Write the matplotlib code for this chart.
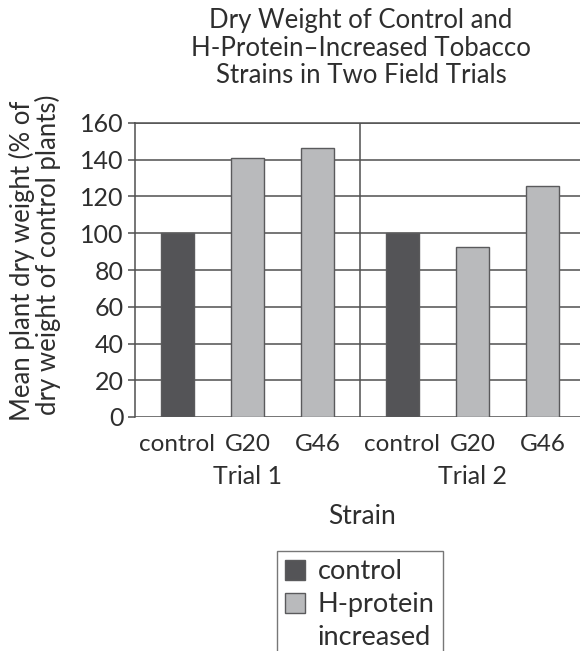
import matplotlib
matplotlib.use("Agg")
import matplotlib.pyplot as plt
from matplotlib.patches import Patch

plt.rcParams['font.family'] = ['Lato', 'DejaVu Sans']

strains = ["control", "G20", "G46", "control", "G20", "G46"]
trials = ["Trial 1", "Trial 2"]
values = [100, 141, 146.5, 100, 92.5, 125.5]
is_control = [True, False, False, True, False, False]
yticks = [0, 20, 40, 60, 80, 100, 120, 140, 160]
legend_labels = ["control", "H-protein", "increased"]

dark = "#545457"
light = "#b9babc"
edge = "#5a5a5c"
grid_c = "#505050"
txt = "#2e2e2e"
FS = 18

block = 3.214
xpos = [0, 1, 2, block, block + 1, block + 2]

fig = plt.figure(figsize=(5.8, 6.51), dpi=100)
ax = fig.add_axes([135/580, 234/651, 1 - 135/580, (417-123)/651])

ax.set_ylim(0, 160)
ax.set_xlim(-0.607, (580-177.5)/70)
ax.set_yticks(yticks)
ax.yaxis.grid(True, color=grid_c, linewidth=1.1)
ax.set_axisbelow(True)
for s in ["right", "bottom"]:
    ax.spines[s].set_visible(False)
for s in ["left", "top"]:
    ax.spines[s].set_color(grid_c)
    ax.spines[s].set_linewidth(1.1)
ax.axvline(block - 0.607, color=grid_c, linewidth=1.1, zorder=1)

colors = [dark if c else light for c in is_control]
ax.bar(xpos, values, width=0.47, color=colors, edgecolor=edge, linewidth=1.0, zorder=3)

ax.set_xticks(xpos)
ax.set_xticklabels(strains, fontsize=17.5, color=txt)
ax.tick_params(axis="x", length=0, pad=12)
ax.tick_params(axis="y", length=5, width=1.1, color=grid_c, pad=3, labelsize=FS, labelcolor=txt)

for i, t in enumerate(trials):
    fig.text((177.5 + 70*xpos[3*i + 1]) / 580, 1 - 477/651, t,
             ha="center", va="center", fontsize=FS, color=txt)
fig.text(362/580, 1 - 517/651, "Strain", ha="center", va="center", fontsize=19, color=txt)

fig.text(361/580, 1 - 48/651,
         "Dry Weight of Control and\nH-Protein\u2013Increased Tobacco\nStrains in Two Field Trials",
         ha="center", va="center", fontsize=18.5, color=txt, linespacing=1.12)

fig.text(22/580, 1 - 261/651, "Mean plant dry weight (% of", rotation=90,
         ha="center", va="center", fontsize=18.5, color=txt)
fig.text(48/580, 1 - 255/651, "dry weight of control plants)", rotation=90,
         ha="center", va="center", fontsize=18.5, color=txt)

handles = [Patch(facecolor=dark, edgecolor=edge, label=legend_labels[0]),
           Patch(facecolor=light, edgecolor=edge, label=legend_labels[1]),
           Patch(facecolor="none", edgecolor="none", label=legend_labels[2])]
leg = fig.legend(handles=handles, loc="upper left", bbox_to_anchor=(277/580, 1 - 551/651),
                 fontsize=19.5, frameon=True, fancybox=False, edgecolor="#555555",
                 handlelength=0.75, handleheight=0.75, handletextpad=0.45,
                 borderpad=0.3, labelspacing=0.3, borderaxespad=0)
leg.get_frame().set_linewidth(1.0)
for t in leg.get_texts():
    t.set_color(txt)

fig.savefig("out.png", dpi=100)
